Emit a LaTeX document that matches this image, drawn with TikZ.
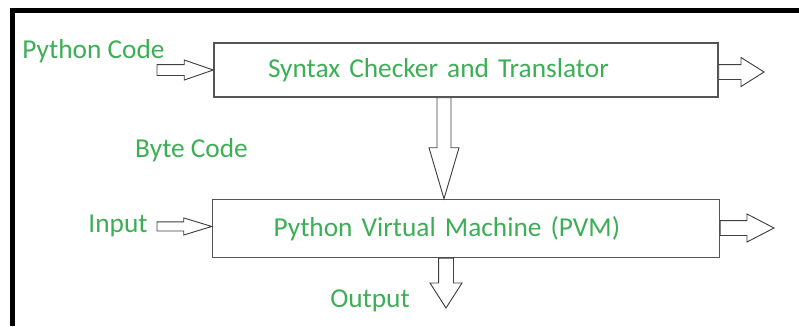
\documentclass[tikz,border=0pt]{standalone}
\usepackage{fontspec}
\setmainfont{Carlito}
\usetikzlibrary{calc,positioning}
\definecolor{codegreen}{RGB}{60,175,85}
\definecolor{edgegray}{RGB}{85,85,85}

\begin{document}
\begin{tikzpicture}
[x=0.75pt, y=-0.75pt, font=\fontsize{20.5}{24}\selectfont,
% STYLES
% The stage style is used to draw the two processing boxes
stage/.style={rectangle, draw=edgegray, line width=1.1pt, inner ysep=0pt, align=left, text=codegreen},
% The tag style is used for the free green labels
tag/.style={text=codegreen, inner sep=0pt, anchor=base},
% Hollow block arrows: shaft half width, head half width, head length
hblock/.style n args={3}{draw=black!75, line width=0.7pt, fill=white,
  to path={let \p1=(\tikztostart), \p2=(\tikztotarget) in
  (\x1,\y2+#1) -- (\x2-#3,\y2+#1) -- (\x2-#3,\y2+#2) -- (\x2,\y2) -- (\x2-#3,\y2-#2) -- (\x2-#3,\y2-#1) -- (\x1,\y2-#1) -- cycle}},
vblock/.style n args={3}{draw=black!75, line width=0.7pt, fill=white,
  to path={let \p1=(\tikztostart), \p2=(\tikztotarget) in
  (\x1+#1,\y1) -- (\x1+#1,\y2+#3) -- (\x1+#2,\y2+#3) -- (\x1,\y2) -- (\x1-#2,\y2+#3) -- (\x1-#1,\y2+#3) -- (\x1-#1,\y1) -- cycle}}]

\useasboundingbox (0,0) rectangle (799,326);

% Frame
\draw[line width=3.75pt] (12.5,326) -- (12.5,10.5) -- (799,10.5);

% Draw stages
\node [stage, minimum width=378pt, minimum height=40.5pt, inner xsep=40.5pt, text width=297pt] (checker) at (466,70) {Syntax Checker and Translator};
\node [stage, minimum width=380.25pt, minimum height=43.5pt, inner xsep=45.75pt, text width=288.75pt, below=75.75pt of checker] (pvm) {Python Virtual Machine (PVM)};

% Free ends of the arrows
\coordinate (codein) at (157,70);
\coordinate (checkerout) at (764,72);
\coordinate (inputin) at (157,224.5);
\coordinate (pvmout) at (774,228);
\coordinate (output) at (446,308);

% Labels
\node [tag] (code) at (93.5,58) {Python Code};
\node [tag] (byte) at (191.5,157) {Byte Code};
\node [tag] (input) at (118,232) {Input};
\node [tag] (out) at (370,307) {Output};

% Draw the links between stages
\draw [hblock={4.1pt}{7.5pt}{21.75pt}] (codein) to (checker.west);
\draw [hblock={5.6pt}{10.9pt}{17.25pt}] (checker.east) to (checkerout);
\draw [vblock={5.25pt}{11.25pt}{38.25pt}] ([xshift=-16.5pt]checker.south) to (pvm.north);
\draw [hblock={3.4pt}{6.4pt}{21pt}] (inputin) to ([yshift=1.5pt]pvm.west);
\draw [hblock={5.6pt}{10.5pt}{20.25pt}] (pvm.east) to (pvmout);
\draw [vblock={5.6pt}{12pt}{18.75pt}] ([xshift=-15pt]pvm.south) to (output);

\end{tikzpicture}
\end{document}
